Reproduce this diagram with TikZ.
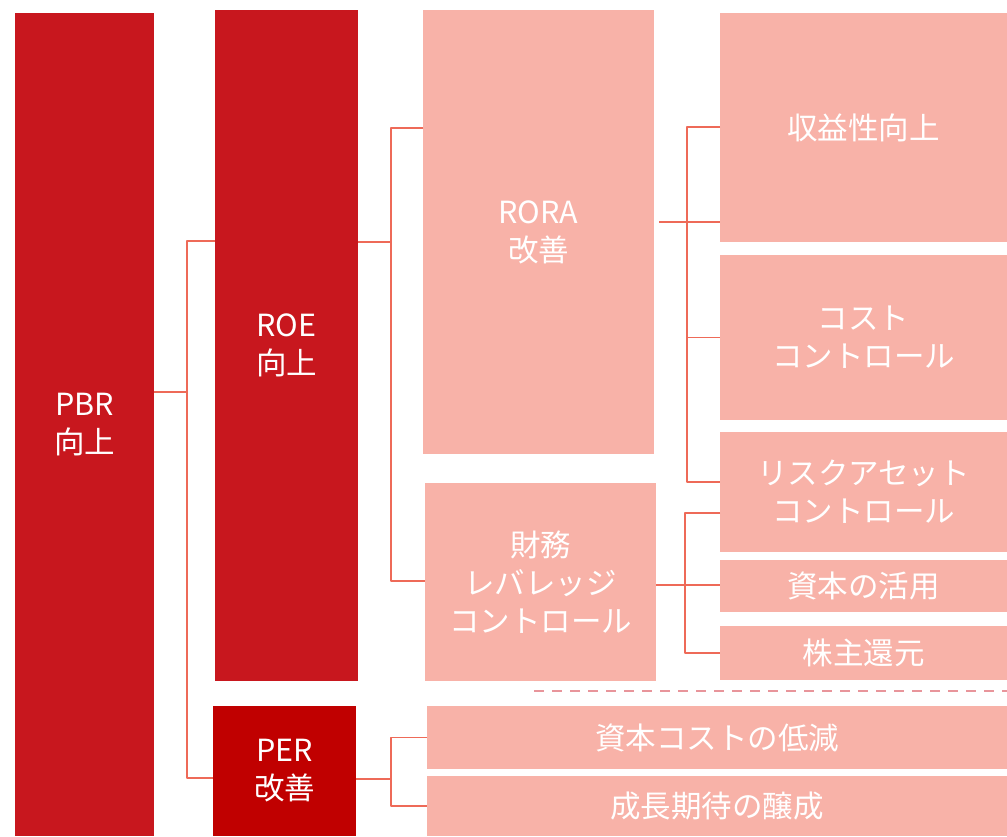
\documentclass[tikz,border=0pt]{standalone}
\usepackage{fontspec}
\setmainfont{Noto Sans CJK JP}
\usepackage{xcolor}
\definecolor{darkred}{HTML}{C8171E}
\definecolor{perred}{HTML}{C00000}
\definecolor{salmon}{HTML}{F8B2A8}
\definecolor{linkred}{HTML}{EE6A58}
\definecolor{dashpink}{HTML}{E8959B}

\begin{document}
\begin{tikzpicture}[line cap=round,line join=round,x=1pt,y=-1pt,
    box/.style={anchor=north west,inner sep=0pt,outer sep=0pt,align=center,
        text=white,font=\fontsize{30.5}{38}\selectfont},
    redbox/.style={box,fill=darkred},
    pinkbox/.style={box,fill=salmon},
    link/.style={line width=1.5pt,color=linkred,line cap=butt}]

	%\draw [xstep=100,ystep=100] (0,0) grid (1007,836);
    \useasboundingbox (0,0) rectangle (1007,836);

    % left column
    \node[redbox,minimum width=139,minimum height=823] (pbr) at (15,13) {PBR\\向上};
    \node[redbox,minimum width=143,minimum height=671] (roe) at (215,10) {ROE\\向上};
    \node[box,fill=perred,minimum width=143,minimum height=130] (per) at (213,706) {PER\\改善};

    % middle column
    \node[pinkbox,minimum width=231,minimum height=444] (rora) at (423,10) {RORA\\改善};
    \node[pinkbox,minimum width=231,minimum height=198] (fin) at (425,483) {財務\\レバレッジ\\コントロール};

    % right column
    \node[pinkbox,minimum width=287,minimum height=229] (prof) at (720,13) {収益性向上};
    \node[pinkbox,minimum width=287,minimum height=165] (cost) at (720,255) {コスト\\コントロール};
    \node[pinkbox,minimum width=287,minimum height=120] (risk) at (720,432) {リスクアセット\\コントロール};
    \node[pinkbox,minimum width=287,minimum height=52] (capuse) at (720,560) {資本の活用};
    \node[pinkbox,minimum width=287,minimum height=54] (retn) at (720,626) {株主還元};

    \draw[line width=2.2pt,color=dashpink,dash pattern=on 10pt off 8pt,line cap=butt] (534,691) -- (1007,691);

    \node[pinkbox,minimum width=580,minimum height=63] (capcost) at (427,706) {資本コストの低減};
    \node[pinkbox,minimum width=580,minimum height=60] (growth) at (427,776) {成長期待の醸成};

    % connectors
    \coordinate (jpbr) at (187,392);
    \coordinate (jroe) at (391,242);
    \coordinate (jrora) at (687,222);
    \coordinate (jfin) at (685,585);
    \coordinate (jper) at (391,779);

    \draw[link] (pbr.east |- jpbr) -- (jpbr);
    \draw[link] (roe.west |- 0,241) -| (jpbr) |- (per.west |- 0,778);

    \draw[link] (roe.east |- jroe) -- (jroe);
    \draw[link] (rora.west |- 0,128) -| (jroe) |- (fin.west |- 0,581);

    \draw[link] ([xshift=5pt]rora.east |- jrora) -- (prof.west |- jrora);
    \draw[link] (prof.west |- 0,127) -| (jrora) |- (risk.west |- 0,482);
    \draw[link] (jrora |- cost.west) -- (cost.west);

    \draw[link] (fin.east |- jfin) -- (capuse.west |- jfin);
    \draw[link] (risk.west |- 0,513) -| (jfin) |- (retn.west);

    \draw[link] (per.east |- jper) -- (jper);
    \draw[link] (capcost.west) -| (jper) |- (growth.west);
\end{tikzpicture}
\end{document}
